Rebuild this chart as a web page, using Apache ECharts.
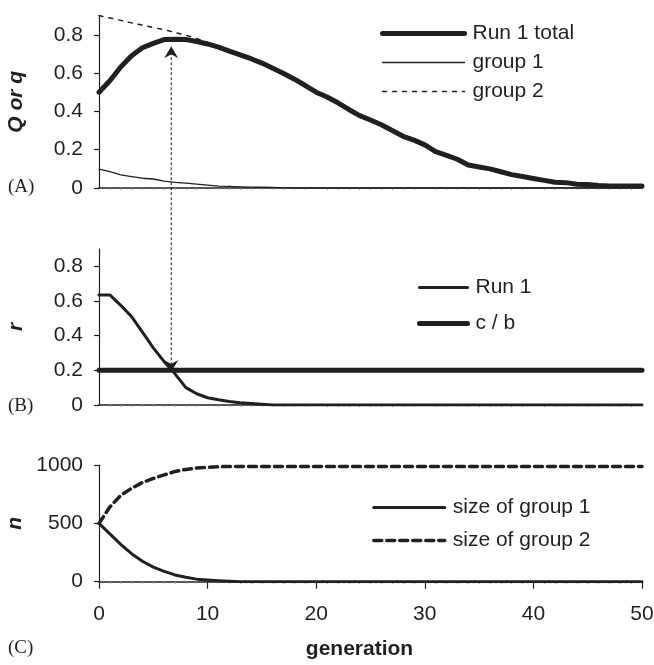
<!DOCTYPE html>
<html>
<head>
<meta charset="utf-8">
<title>Run 1: Q, r and group sizes by generation</title>
<script src="https://cdn.jsdelivr.net/npm/echarts@6/dist/echarts.min.js"></script>
<style>
  html, body { margin: 0; padding: 0; background: #ffffff; }
  #chart { width: 654px; height: 665px; }
</style>
</head>
<body>
<div id="chart"></div>
<script>
// Generations 0..50 (x positions of every series)
const lastGeneration = 50;

// Panel A: Q (whole population) and q of each group
const qTotal = [
  0.50, 0.56, 0.632, 0.69, 0.732, 0.755, 0.775, 0.776, 0.775, 0.765,
  0.752, 0.735, 0.715, 0.695, 0.675, 0.652, 0.625, 0.598, 0.568, 0.535,
  0.50, 0.475, 0.445, 0.41, 0.378, 0.355, 0.33, 0.30, 0.27, 0.25,
  0.225, 0.19, 0.17, 0.15, 0.12, 0.11, 0.10, 0.085, 0.07, 0.06,
  0.05, 0.04, 0.03, 0.028, 0.02, 0.018, 0.013, 0.01, 0.01, 0.01, 0.01
];
const qGroup1 = [
  0.098, 0.085, 0.068, 0.059, 0.051, 0.047, 0.036, 0.029, 0.025, 0.02,
  0.015, 0.01, 0.008, 0.006, 0.005, 0.004, 0.003, 0.001, 0, 0,
  0, 0, 0, 0, 0, 0, 0, 0, 0, 0,
  0, 0, 0, 0, 0, 0, 0, 0, 0, 0,
  0, 0, 0, 0, 0, 0, 0, 0, 0, 0, 0
];
const qGroup2 = [
  0.90, 0.888, 0.875, 0.862, 0.85, 0.838, 0.826, 0.812, 0.798, 0.78,
  0.76, 0.738, 0.715, 0.695, 0.675, 0.652, 0.625, 0.598, 0.568, 0.535,
  0.50, 0.475, 0.445, 0.41, 0.378, 0.355, 0.33, 0.30, 0.27, 0.25,
  0.225, 0.19, 0.17, 0.15, 0.12, 0.11, 0.10, 0.085, 0.07, 0.06,
  0.05, 0.04, 0.03, 0.028, 0.02, 0.018, 0.013, 0.01, 0.01, 0.01, 0.01
];

// Panel B: relatedness r and the cost/benefit threshold
const rRun1 = [
  0.635, 0.635, 0.575, 0.51, 0.42, 0.33, 0.25, 0.18, 0.10, 0.065,
  0.042, 0.03, 0.02, 0.013, 0.008, 0.004, 0, 0, 0, 0,
  0, 0, 0, 0, 0, 0, 0, 0, 0, 0,
  0, 0, 0, 0, 0, 0, 0, 0, 0, 0,
  0, 0, 0, 0, 0, 0, 0, 0, 0, 0, 0
];
const costBenefit = 0.2;

// Panel C: group sizes
const nGroup1 = [
  500, 410, 320, 240, 175, 125, 88, 58, 38, 22,
  14, 8, 3, 0, 0, 0, 0, 0, 0, 0,
  0, 0, 0, 0, 0, 0, 0, 0, 0, 0,
  0, 0, 0, 0, 0, 0, 0, 0, 0, 0,
  0, 0, 0, 0, 0, 0, 0, 0, 0, 0, 0
];
const nGroup2 = [
  500, 640, 740, 800, 850, 885, 915, 945, 962, 975,
  980, 985, 988, 988, 988, 988, 988, 988, 988, 988,
  988, 988, 988, 988, 988, 988, 988, 988, 988, 988,
  988, 988, 988, 988, 988, 988, 988, 988, 988, 988,
  988, 988, 988, 988, 988, 988, 988, 988, 988, 988, 988
];

// Tick labels
const qTicks = [0, 0.2, 0.4, 0.6, 0.8];
const rTicks = [0, 0.2, 0.4, 0.6, 0.8];
const nTicks = [0, 500, 1000];
const genTicks = [0, 10, 20, 30, 40, 50];

// Arrow linking the peak of Q to the point where r falls to c/b
const arrowGeneration = 6.65;
const arrowTopQ = 0.74;
const arrowBottomR = 0.19;

const INK = '#231f20';
const SANS = '"Liberation Sans", Arial, Helvetica, sans-serif';
const SERIF = '"Liberation Serif", "Times New Roman", serif';
const FONT_SIZE = 21;

function pairs(values) {
  return values.map(function (v, g) { return [g, v]; });
}

function plainNumber(v) { return String(v); }

function xAxisFor(grid, labelled) {
  return {
    type: 'value', gridIndex: grid, min: 0, max: lastGeneration, interval: 10,
    axisLine: { show: true, onZero: false, lineStyle: { color: INK, width: 1.5 } },
    axisTick: { show: labelled, length: 7, lineStyle: { color: INK, width: 1.2 } },
    minorTick: { show: true, splitNumber: 10, length: 2, lineStyle: { color: '#9a9a9a', width: 1 } },
    axisLabel: {
      show: labelled, margin: 22, color: INK, fontFamily: SANS, fontSize: FONT_SIZE,
      customValues: genTicks, formatter: plainNumber
    },
    splitLine: { show: false },
    name: labelled ? 'generation' : '',
    nameLocation: 'middle', nameGap: 57,
    nameTextStyle: { color: INK, fontFamily: SANS, fontSize: FONT_SIZE, fontWeight: 'bold', padding: [0, 22, 0, 0] }
  };
}

function yAxisFor(grid, max, ticks, title) {
  return {
    type: 'value', gridIndex: grid, min: 0, max: max,
    axisLine: { show: true, lineStyle: { color: INK, width: 1.2 } },
    axisTick: { show: true, inside: false, length: 5, customValues: ticks, lineStyle: { color: INK, width: 1.2 } },
    axisLabel: { margin: 16, color: INK, fontFamily: SANS, fontSize: FONT_SIZE, customValues: ticks, formatter: plainNumber },
    splitLine: { show: false },
    name: title, nameLocation: 'middle', nameRotate: 90, nameGap: 72,
    nameTextStyle: { color: INK, fontFamily: SANS, fontSize: FONT_SIZE, fontWeight: 'bold', fontStyle: 'italic' }
  };
}

function lineSeries(name, xi, values, width, type, z) {
  return {
    name: name, type: 'line', xAxisIndex: xi, yAxisIndex: xi,
    data: pairs(values), symbol: 'none', showSymbol: false, smooth: false,
    lineStyle: { color: INK, width: width, type: type, cap: 'round', join: 'round' },
    itemStyle: { color: INK },
    z: z, animation: false, silent: true
  };
}

const legendText = { color: INK, fontFamily: SANS, fontSize: FONT_SIZE, lineHeight: 20, padding: [0, 0, 0, 3] };
// legend keys show only the line, no marker
const noMarker = { color: 'rgba(0,0,0,0)', borderWidth: 0, opacity: 0 };

function legendKey(name, width) {
  return { name: name, lineStyle: { width: width, opacity: 1 }, itemStyle: noMarker };
}

const option = {
  backgroundColor: '#ffffff',
  animation: false,
  grid: [
    { left: 99, width: 543, top: 15.6, height: 172.4, outerBoundsMode: 'none', containLabel: false },
    { left: 99, width: 543, top: 249, height: 156, outerBoundsMode: 'none', containLabel: false },
    { left: 99, width: 543, top: 465, height: 116.7, outerBoundsMode: 'none', containLabel: false }
  ],
  xAxis: [xAxisFor(0, false), xAxisFor(1, false), xAxisFor(2, true)],
  yAxis: [
    yAxisFor(0, 0.9, qTicks, 'Q or q'),
    yAxisFor(1, 0.9, rTicks, 'r'),
    yAxisFor(2, 1000, nTicks, 'n')
  ],
  legend: [
    {
      orient: 'vertical', left: 380, top: 23, padding: 0, itemWidth: 82, itemHeight: 14, itemGap: 8,
      selectedMode: false, textStyle: legendText,
      data: [legendKey('Run 1 total', 5), legendKey('group 1', 1.3), legendKey('group 2', 1.5)]
    },
    {
      orient: 'vertical', left: 417, top: 277, padding: 0, itemWidth: 48, itemHeight: 14, itemGap: 15,
      selectedMode: false, textStyle: legendText,
      data: [legendKey('Run 1', 3), legendKey('c / b', 5)]
    },
    {
      orient: 'vertical', left: 372, top: 497, padding: 0, itemWidth: 71, itemHeight: 14, itemGap: 12,
      selectedMode: false, textStyle: legendText,
      data: [legendKey('size of group 1', 3), legendKey('size of group 2', 3.5)]
    }
  ],
  series: [
    lineSeries('group 2', 0, qGroup2, 1.5, [4, 6], 2),
    lineSeries('group 1', 0, qGroup1, 1.3, 'solid', 2),
    lineSeries('Run 1 total', 0, qTotal, 5, 'solid', 3),
    lineSeries('Run 1', 1, rRun1, 3, 'solid', 3),
    lineSeries('c / b', 1, rRun1.map(function () { return costBenefit; }), 5, 'solid', 2),
    lineSeries('size of group 1', 2, nGroup1, 3, 'solid', 3),
    lineSeries('size of group 2', 2, nGroup2, 3.5, [8, 5], 2)
  ]
};

const chart = echarts.init(document.getElementById('chart'), null, { renderer: 'canvas' });
chart.setOption(option);

// Arrow and panel letters, placed through the axes' own scales
const arrowTip = chart.convertToPixel({ gridIndex: 0 }, [arrowGeneration, arrowTopQ]);
const arrowEnd = chart.convertToPixel({ gridIndex: 1 }, [arrowGeneration, arrowBottomR]);
const ax = arrowTip[0];

function panelLetter(text, y) {
  return {
    type: 'text', left: 8, top: y - 11, silent: true,
    style: { text: text, fill: INK, font: '19px ' + SERIF }
  };
}

chart.setOption({
  graphic: [
    {
      type: 'line', silent: true,
      shape: { x1: ax, y1: arrowTip[1] + 6, x2: arrowEnd[0], y2: arrowEnd[1] - 6 },
      style: { stroke: INK, lineWidth: 1, lineDash: [3, 2] }
    },
    {
      type: 'polygon', silent: true,
      shape: { points: [[ax, arrowTip[1]], [ax - 7, arrowTip[1] + 12], [ax, arrowTip[1] + 8], [ax + 7, arrowTip[1] + 12]] },
      style: { fill: INK }
    },
    {
      type: 'polygon', silent: true,
      shape: { points: [[arrowEnd[0], arrowEnd[1]], [arrowEnd[0] - 7, arrowEnd[1] - 12], [arrowEnd[0], arrowEnd[1] - 8], [arrowEnd[0] + 7, arrowEnd[1] - 12]] },
      style: { fill: INK }
    },
    panelLetter('(A)', 189),
    panelLetter('(B)', 408),
    panelLetter('(C)', 650)
  ]
});
</script>
</body>
</html>
